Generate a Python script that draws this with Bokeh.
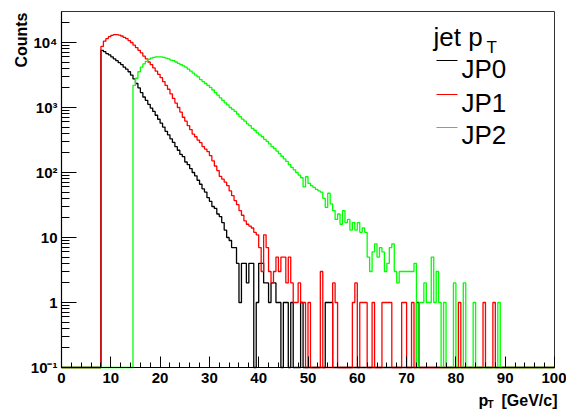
import numpy as np
from bokeh.plotting import figure
from bokeh.models import Range1d, FixedTicker, Label
from bokeh.embed import file_html
from bokeh.resources import INLINE

# ---------------- data (histogram counts, 0.5 GeV bins) ----------------
bin_width = 0.5
x_lo, x_hi = 0.0, 100.0
y_lo, y_hi = 0.1, 3.0e4

series_names = ["JP0", "JP1", "JP2"]
series_colors = ["#000000", "#ff0000", "#00ff00"]

jp0_start = 8.0
jp0_counts = [
    7590, 7240, 6760, 6460, 6030, 5620, 5250, 4900, 4570, 4170,
    3890, 3550, 3160, 2750, 2340, 2000, 1700, 1450, 1290, 1120,
    980, 870, 760, 660, 575, 500, 430, 380, 330, 290,
    250, 220, 190, 175, 145, 132, 115, 100, 89, 76,
    66, 56, 50, 41, 36, 30, 28, 23, 21, 17,
    13, 10, 9, 7, 7, 4, 1, 4, 4, 2,
    4, 4, 0, 1, 4, 4, 2, 2, 1, 2,
    2, 1, 1, 0, 1, 1, 0, 1, 0, 0,
    0, 1, 0, 0, 0, 0, 0, 0, 0, 0,
    0, 1, 1, 1, 0, 0, 0, 0, 0, 0,
    0, 0, 0, 0, 0, 0, 0, 0, 0, 0,
    0, 0, 0, 0, 0, 0, 0, 0, 0, 0,
    0, 0, 0, 0, 0, 0, 0, 0, 1,
]

jp1_start = 8.0
jp1_counts = [
    8710, 10470, 11480, 12300, 12880, 13180, 13180, 13030, 12590, 12020,
    11480, 10720, 10000, 9120, 8320, 7590, 6920, 6170, 5620, 5010,
    4570, 4070, 3630, 3240, 2880, 2510, 2190, 1910, 1620, 1380,
    1170, 1000, 851, 708, 617, 525, 457, 389, 355, 316,
    288, 251, 229, 209, 182, 151, 126, 107, 87, 79,
    71, 63, 52, 44, 37, 32, 26, 22, 18, 16,
    15, 14, 12, 11, 7, 3, 11, 7, 3, 2,
    3, 5, 3, 5, 5, 2, 5, 2, 1, 1,
    2, 1, 1, 0, 1, 0, 0, 0, 0, 3,
    0, 0, 0, 0, 2, 1, 0, 0, 0, 0,
    0, 0, 1, 2, 0, 1, 1, 1, 0, 0,
    1, 0, 0, 0, 1, 1, 1, 1, 0, 0,
    0, 0, 1, 1, 0, 0, 1, 0, 0, 0,
    0, 0, 0, 0, 0, 0, 0, 0, 0, 0,
    0, 0, 0, 0, 0, 1, 0, 0, 0, 0,
    0, 0, 0, 0, 0, 1, 0, 0, 0, 1,
]

jp2_start = 14.5
jp2_counts = [
    2190, 2820, 3550, 4170, 4680, 5130, 5500, 5750, 5890, 6030,
    6030, 6000, 5900, 5750, 5620, 5370, 5250, 5010, 4790, 4570,
    4370, 4170, 3890, 3630, 3390, 3160, 2950, 2690, 2510, 2340,
    2190, 2040, 1860, 1700, 1550, 1410, 1290, 1175, 1100, 1000,
    933, 871, 794, 724, 661, 617, 562, 525, 479, 447,
    407, 380, 355, 324, 302, 275, 251, 234, 214, 195,
    178, 162, 148, 132, 120, 110, 100, 91, 83, 60,
    86, 68, 63, 59, 55, 52, 50, 40, 29, 48,
    33, 26, 19, 23, 16, 26, 17, 19, 13, 17,
    13, 17, 12, 14, 12, 5, 3, 6, 8, 5,
    7, 6, 3, 4, 7, 8, 3, 2, 3, 3,
    3, 3, 3, 3, 4, 0, 1, 1, 2, 1,
    1, 5, 1, 3, 1, 0, 1, 0, 0, 0,
    2, 0, 0, 0, 2, 0, 0, 0, 1, 0,
    0, 0, 0, 0, 0, 0, 0, 0, 1,
]

series_starts = [jp0_start, jp1_start, jp2_start]
series_counts = [jp0_counts, jp1_counts, jp2_counts]

x_major = list(range(0, 101, 10))
x_minor = list(range(0, 101, 2))
y_major = [0.1, 1, 10, 100, 1000, 10000]
y_labels = {0.1: "10\u207b\u00b9", 1: "1", 10: "10", 100: "10\u00b2",
            1000: "10\u00b3", 10000: "10\u2074"}

# ---------------- layout ----------------
W, H = 566, 409
FL, FR, FT, FB = 61, 554, 11, 367   # axes box edges in canvas pixels


def dx(px):
    return x_lo + (px - FL) / (FR - FL) * (x_hi - x_lo)


def dy(py):
    l0, l1 = np.log10(y_lo), np.log10(y_hi)
    return 10 ** (l0 + (FB - py) / (FB - FT) * (l1 - l0))


# the plotting frame covers the whole canvas; axes are pinned to the box edges
p = figure(width=W, height=H, output_backend="svg", toolbar_location=None,
           x_range=Range1d(dx(0), dx(W)), y_range=Range1d(dy(H), dy(0)),
           y_axis_type="log",
           min_border_left=0, min_border_right=0,
           min_border_top=0, min_border_bottom=0)
p.background_fill_color = "white"
p.border_fill_color = "white"
p.outline_line_color = None
p.xgrid.visible = False
p.ygrid.visible = False

AX_FONT = "Liberation Sans"

xa = p.xaxis[0]
xa.fixed_location = y_lo
xa.bounds = (x_lo, x_hi)
xa.ticker = FixedTicker(ticks=x_major, minor_ticks=x_minor)
xa.major_tick_in = 11
xa.major_tick_out = 0
xa.minor_tick_in = 5
xa.minor_tick_out = 0
xa.axis_line_color = "black"
xa.axis_line_width = 1.2
xa.major_label_text_font = AX_FONT
xa.major_label_text_font_style = "bold"
xa.major_label_text_font_size = "15px"
xa.major_label_text_color = "black"
xa.major_label_standoff = 5

ya = p.yaxis[0]
ya.fixed_location = x_lo
ya.bounds = (y_lo, y_hi)
minors = [m * 10.0 ** e for e in range(-1, 5) for m in range(2, 10) if m * 10.0 ** e < y_hi]
ya.ticker = FixedTicker(ticks=y_major, minor_ticks=minors)
ya.major_label_overrides = y_labels
ya.major_tick_in = 15
ya.major_tick_out = 0
ya.minor_tick_in = 8
ya.minor_tick_out = 0
ya.axis_line_color = "black"
ya.axis_line_width = 1.2
ya.major_label_text_font = AX_FONT
ya.major_label_text_font_style = "bold"
ya.major_label_text_font_size = "15px"
ya.major_label_text_color = "black"
ya.major_label_standoff = 4

# axes box (top and right edges of the frame)
p.quad(left=[x_lo], right=[x_hi], bottom=[y_lo], top=[y_hi],
       fill_color=None, line_color="#333333", line_width=1)

# ---------------- histograms ----------------
n_bins = int(round((x_hi - x_lo) / bin_width))
edges = x_lo + bin_width * np.arange(n_bins + 1)

for start, counts, color in zip(series_starts, series_counts, series_colors):
    full = np.zeros(n_bins)
    i0 = int(round((start - x_lo) / bin_width))
    full[i0:i0 + len(counts)] = counts
    full = np.where(full > 0, full, y_lo)
    xs = np.concatenate([[edges[0]], np.repeat(edges, 2)[1:-1], [edges[-1]]])
    ys = np.concatenate([[y_lo], np.repeat(full, 2), [y_lo]])
    p.line(xs, ys, line_color=color, line_width=1.3)


def add_label(text, px, py, size, bold=False, align="left", angle=0.0, font=AX_FONT):
    p.add_layout(Label(x=dx(px), y=dy(py), text=text, text_font=font,
                       text_font_size=f"{size}px",
                       text_font_style="bold" if bold else "normal",
                       text_align=align, text_baseline="alphabetic",
                       angle=angle, text_color="black"))


# axis titles
add_label("Counts", 21, 12, 16, bold=True, align="right", angle=np.pi / 2)
add_label("p", 478, 400, 16, bold=True)
add_label("T", 487, 404, 10, bold=True)
add_label("[GeV/c]", 557, 400, 16, bold=True, align="right")

# legend
add_label("jet p", 433, 36, 26)
add_label("T", 486, 47, 17)
leg_line_y = [60, 94, 127]
leg_text_y = [68, 102, 134]
for name, color, ly, ty in zip(series_names, series_colors, leg_line_y, leg_text_y):
    p.segment(x0=[dx(436)], y0=[dy(ly)], x1=[dx(457)], y1=[dy(ly)],
              line_color=color, line_width=1)
    add_label(name, 461, ty, 26)

open("out.html", "w").write(file_html(p, INLINE))
